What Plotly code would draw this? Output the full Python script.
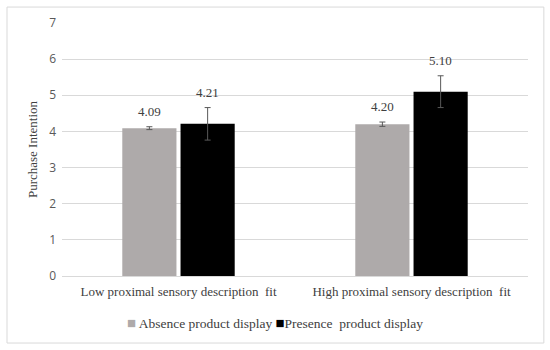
import plotly.graph_objects as go

categories = ["Low proximal sensory description\u00a0 fit", "High proximal sensory description\u00a0 fit"]
series_names = ["Absence product display", "Presence\u00a0 product display"]
series_colors = ["#AEAAAA", "#000000"]
absence_vals = [4.09, 4.20]
presence_vals = [4.21, 5.10]
absence_err = [0.04, 0.06]
presence_err = [0.45, 0.44]
label_texts_abs = ["4.09", "4.20"]
label_texts_pre = ["4.21", "5.10"]

serif = "Liberation Serif"
sans = "Open Sans"

fig = go.Figure()
fig.add_trace(go.Bar(
    x=categories, y=absence_vals, name=series_names[0],
    marker=dict(color=series_colors[0], line=dict(width=0)),
    error_y=dict(type="data", array=absence_err, color="#595959", thickness=1, width=3),
))
fig.add_trace(go.Bar(
    x=categories, y=presence_vals, name=series_names[1],
    marker=dict(color=series_colors[1], line=dict(width=0)),
    error_y=dict(type="data", array=presence_err, color="#595959", thickness=1, width=3),
))

# data labels above error bars
for vals, errs, texts, shift in [(absence_vals, absence_err, label_texts_abs, -29),
                                  (presence_vals, presence_err, label_texts_pre, 29)]:
    for i, (v, e, t) in enumerate(zip(vals, errs, texts)):
        fig.add_annotation(x=i, y=v + e, text=t, showarrow=False, xshift=shift,
                           yanchor="bottom", yshift=6,
                           font=dict(family=serif, size=13, color="#404040"))

# legend built as text with square markers (tight spacing as in the reference)
legend_text = (
    f"<span style='color:{series_colors[0]};font-size:15px'>■</span> {series_names[0]} "
    f"<span style='color:{series_colors[1]};font-size:15px'>■</span>{series_names[1]}"
)
fig.add_annotation(xref="paper", yref="paper", x=0.457, y=-0.186, xanchor="center",
                   yanchor="middle", showarrow=False, text=legend_text,
                   font=dict(family=serif, size=13.5, color="#404040"))

fig.add_shape(type="rect", xref="paper", yref="paper",
              x0=-0.118, x1=1.034, y0=-0.265, y1=1.063,
              line=dict(color="#D9D9D9", width=1), fillcolor="rgba(0,0,0,0)", layer="below")

fig.update_layout(
    width=550, height=350,
    margin=dict(l=62, r=22, t=23, b=74, autoexpand=False),
    paper_bgcolor="white", plot_bgcolor="white",
    barmode="group", bargap=0.5, bargroupgap=0.07,
    showlegend=False,
    xaxis=dict(type="category", range=[-0.5, 1.5], autorange=False,
               showgrid=False, showline=False, ticks="", tickangle=0, automargin=False,
               ticklabelstandoff=6,
               tickfont=dict(family=serif, size=13, color="#404040")),
    yaxis=dict(range=[0, 7], autorange=False, dtick=1, showgrid=True, gridcolor="#D9D9D9", gridwidth=1,
               zeroline=True, zerolinecolor="#D9D9D9", zerolinewidth=1,
               showline=False, ticks="", automargin=False, ticklabelstandoff=5,
               tickfont=dict(family=sans, size=12, color="#595959"),
               title=dict(text="Purchase Intention", standoff=8,
                          font=dict(family=serif, size=13, color="#404040"))),
)

fig.write_html("out.html", config={"displayModeBar": False},
               post_script="document.body.style.margin='0';")
